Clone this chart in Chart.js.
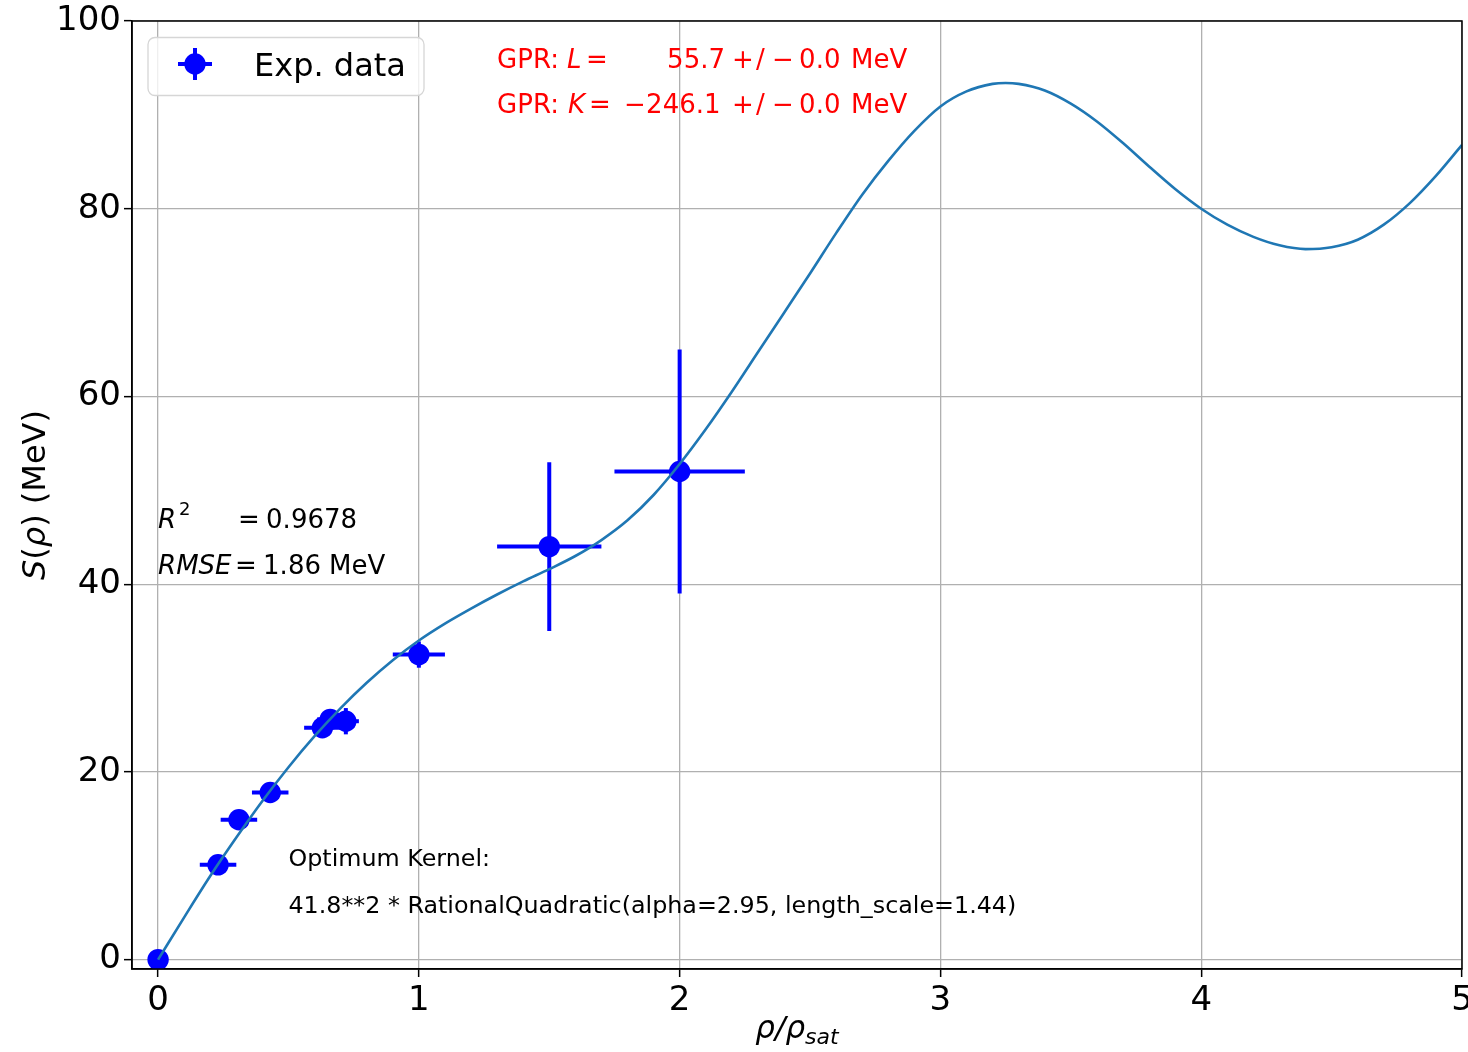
<!DOCTYPE html>
<html>
<head>
<meta charset="utf-8">
<script src="https://cdn.jsdelivr.net/npm/chart.js@4.4.1/dist/chart.umd.min.js"></script>
<style>
  html, body { margin: 0; padding: 0; background: #ffffff; }
  #wrap { width: 1468px; height: 1052px; }
</style>
</head>
<body>
<div id="wrap"><canvas id="c" width="1468" height="1052"></canvas></div>
<script>
// Experimental symmetry energy S(rho) with uncertainties
const expRho    = [0.0, 0.23, 0.31, 0.43, 0.63, 0.66, 0.72, 1.0, 1.5, 2.0];
const expS      = [0.0, 10.1, 14.9, 17.8, 24.7, 25.6, 25.4, 32.5, 44.0, 52.0];
const expRhoErr = [0.0, 0.07, 0.07, 0.07, 0.07, 0.05, 0.05, 0.10, 0.20, 0.25];
const expSErr   = [0.0, 1.0, 1.0, 1.0, 1.0, 1.0, 1.4, 1.4, 9.0, 13.0];

// GPR mean prediction on a density grid (extra nodes at the turning points)
const gprRho = [0.0, 0.1, 0.2, 0.3, 0.4, 0.5, 0.6, 0.7, 0.8, 0.9,
                1.0, 1.1, 1.2, 1.3, 1.4, 1.5, 1.6, 1.7, 1.8, 1.9,
                2.0, 2.1, 2.2, 2.3, 2.4, 2.5, 2.6, 2.7, 2.8, 2.9,
                3.0, 3.1, 3.2, 3.25, 3.3, 3.4, 3.5, 3.6, 3.7, 3.8, 3.9,
                4.0, 4.1, 4.2, 4.3, 4.4, 4.5, 4.6, 4.7, 4.8, 4.9, 5.0];
const gprS   = [0.0, 4.5, 8.9, 13.0, 16.9, 20.5, 23.8, 26.8, 29.5, 31.9,
                34.0, 35.8, 37.4, 38.9, 40.3, 41.6, 43.0, 44.7, 46.8, 49.5,
                52.8, 56.5, 60.5, 64.7, 68.9, 73.1, 77.4, 81.5, 85.1, 88.3,
                90.9, 92.5, 93.3, 93.4, 93.3, 92.6, 91.2, 89.3, 87.0, 84.5, 82.1,
                80.0, 78.3, 77.0, 76.1, 75.7, 75.9, 76.7, 78.3, 80.6, 83.5, 86.8];

const xTicks = [0, 1, 2, 3, 4, 5];
const yTicks = [0, 20, 40, 60, 80, 100];

const FONT = "'DejaVu Sans', 'Liberation Sans', sans-serif";
const BLUE = '#0000ff';
const RED = '#ff0000';

// draws a list of [dx, text, sizePx, italic, dy] pieces from an anchor
function drawPieces(ctx, x0, y0, pieces, color) {
  ctx.save();
  ctx.fillStyle = color;
  ctx.textBaseline = 'alphabetic';
  ctx.textAlign = 'left';
  for (const [dx, text, size, italic, dy] of pieces) {
    ctx.font = (italic ? 'italic ' : '') + size + 'px ' + FONT;
    ctx.fillText(text, x0 + dx, y0 + (dy || 0));
  }
  ctx.restore();
}

// error bars, drawn underneath the markers
const errorBars = {
  id: 'errorBars',
  beforeDatasetDraw(chart, args) {
    if (args.index !== 1) return;
    const { ctx, scales: { x, y } } = chart;
    ctx.save();
    ctx.strokeStyle = BLUE;
    ctx.lineWidth = 4;
    ctx.lineCap = 'butt';
    for (let i = 0; i < expRho.length; i++) {
      const px = x.getPixelForValue(expRho[i]);
      const py = y.getPixelForValue(expS[i]);
      if (expRhoErr[i] > 0) {
        ctx.beginPath();
        ctx.moveTo(x.getPixelForValue(expRho[i] - expRhoErr[i]), py);
        ctx.lineTo(x.getPixelForValue(expRho[i] + expRhoErr[i]), py);
        ctx.stroke();
      }
      if (expSErr[i] > 0) {
        ctx.beginPath();
        ctx.moveTo(px, y.getPixelForValue(expS[i] - expSErr[i]));
        ctx.lineTo(px, y.getPixelForValue(expS[i] + expSErr[i]));
        ctx.stroke();
      }
    }
    ctx.restore();
  }
};

// frame, legend, axis titles and annotations
const decorations = {
  id: 'decorations',
  afterDraw(chart) {
    const { ctx, chartArea: a, scales: { x, y } } = chart;

    // top and right spines
    ctx.save();
    ctx.strokeStyle = '#000';
    ctx.lineWidth = 1.5;
    ctx.strokeRect(a.left, a.top, a.right - a.left, a.bottom - a.top);
    ctx.restore();

    // legend
    const lx = a.left + 16, ly = a.top + 16.5, lw = 276, lh = 58, r = 7;
    ctx.save();
    ctx.beginPath();
    ctx.roundRect(lx, ly, lw, lh, r);
    ctx.fillStyle = 'rgba(255,255,255,0.8)';
    ctx.fill();
    ctx.strokeStyle = '#d6d6d6';
    ctx.lineWidth = 1.3;
    ctx.stroke();
    const mx = lx + 47, my = ly + 26.5;
    ctx.strokeStyle = BLUE;
    ctx.lineWidth = 4;
    ctx.beginPath();
    ctx.moveTo(mx - 17, my); ctx.lineTo(mx + 17, my);
    ctx.moveTo(mx, my - 16); ctx.lineTo(mx, my + 16);
    ctx.stroke();
    ctx.fillStyle = BLUE;
    ctx.beginPath();
    ctx.arc(mx, my, 10.7, 0, Math.PI * 2);
    ctx.fill();
    ctx.fillStyle = '#000';
    ctx.font = '32px ' + FONT;
    ctx.textBaseline = 'alphabetic';
    ctx.fillText('Exp. data', lx + 106, ly + 38.5);
    ctx.restore();

    // GPR slope and curvature
    const gx = x.getPixelForValue(1.3);
    drawPieces(ctx, gx, y.getPixelForValue(95), [
      [0, 'GPR:', 26], [70, 'L', 26, true], [89, '=', 26], [170, '55.7', 26],
      [235, '+', 26], [259, '/', 26], [275, '\u2212', 26], [302, '0.0', 26], [354, 'MeV', 26]
    ], RED);
    drawPieces(ctx, gx, y.getPixelForValue(90.2), [
      [0, 'GPR:', 26], [71, 'K', 26, true], [92, '=', 26], [127, '\u2212', 26], [149, '246.1', 26],
      [235, '+', 26], [259, '/', 26], [275, '\u2212', 26], [302, '0.0', 26], [354, 'MeV', 26]
    ], RED);

    // goodness of fit
    const sx = x.getPixelForValue(0);
    drawPieces(ctx, sx, y.getPixelForValue(46), [
      [0, 'R', 26, true], [21, '2', 18, false, -13], [80, '=', 26], [108, '0.9678', 26]
    ], '#000');
    drawPieces(ctx, sx, y.getPixelForValue(41.1), [
      [0, 'RMSE', 26, true], [77, '=', 26], [105, '1.86', 26], [171, 'MeV', 26]
    ], '#000');

    // kernel description
    const kx = x.getPixelForValue(0.5);
    drawPieces(ctx, kx, y.getPixelForValue(10), [[0, 'Optimum Kernel:', 23.8]], '#000');
    drawPieces(ctx, kx, y.getPixelForValue(5), [[0, '41.8**2 * RationalQuadratic(alpha=2.95, length_scale=1.44)', 23.8]], '#000');

    // x axis title: rho / rho_sat
    ctx.save();
    ctx.fillStyle = '#000';
    ctx.textBaseline = 'alphabetic';
    const cx = (a.left + a.right) / 2;
    const base = a.bottom + 69;
    ctx.font = 'italic 31px ' + FONT;
    const w1 = ctx.measureText('\u03c1/\u03c1').width;
    ctx.font = 'italic 22px ' + FONT;
    const w2 = ctx.measureText('sat').width;
    const tx = cx - (w1 + w2) / 2;
    ctx.font = 'italic 31px ' + FONT;
    ctx.fillText('\u03c1/\u03c1', tx, base);
    ctx.font = 'italic 22px ' + FONT;
    ctx.fillText('sat', tx + w1, base + 6);
    ctx.restore();

    // y axis title: S(rho) (MeV)
    ctx.save();
    ctx.translate(45, (a.top + a.bottom) / 2);
    ctx.rotate(-Math.PI / 2);
    ctx.fillStyle = '#000';
    ctx.textBaseline = 'alphabetic';
    const segs = [['S', true], ['(', false], ['\u03c1', true], [')', false], [' (MeV)', false]];
    let total = 0;
    for (const [t, it] of segs) { ctx.font = (it ? 'italic ' : '') + '32px ' + FONT; total += ctx.measureText(t).width; }
    let ox = -total / 2;
    for (const [t, it] of segs) {
      ctx.font = (it ? 'italic ' : '') + '32px ' + FONT;
      ctx.fillText(t, ox, 0);
      ox += ctx.measureText(t).width;
    }
    ctx.restore();
  }
};

new Chart(document.getElementById('c'), {
  type: 'scatter',
  data: {
    datasets: [
      {
        label: 'GPR',
        data: gprRho.map((v, i) => ({ x: v, y: gprS[i] })),
        showLine: true,
        borderColor: '#1f77b4',
        borderWidth: 2.6,
        pointRadius: 0,
        cubicInterpolationMode: 'monotone',
        order: 0
      },
      {
        label: 'Exp. data',
        data: expRho.map((v, i) => ({ x: v, y: expS[i] })),
        showLine: false,
        pointRadius: 10.7,
        pointBackgroundColor: BLUE,
        pointBorderWidth: 0,
        order: 1
      }
    ]
  },
  options: {
    responsive: false,
    animation: false,
    devicePixelRatio: 1,
    layout: { autoPadding: false, padding: { top: 21, right: 6, left: 0, bottom: 0 } },
    plugins: { legend: { display: false }, tooltip: { enabled: false } },
    scales: {
      x: {
        type: 'linear', min: -0.1, max: 5,
        afterBuildTicks: s => { s.ticks = xTicks.map(v => ({ value: v })); },
        ticks: { font: { family: FONT, size: 34 }, color: '#000', padding: 4, maxRotation: 0, autoSkip: false },
        grid: { color: '#b0b0b0', lineWidth: 1.3, tickColor: '#000', tickLength: 8, tickWidth: 1.5 },
        border: { display: true, color: '#000', width: 1.5 },
        afterFit: s => { s.height = 83; s.paddingLeft = 0; s.paddingRight = 0; }
      },
      y: {
        type: 'linear', min: -1, max: 100,
        afterBuildTicks: s => { s.ticks = yTicks.map(v => ({ value: v })); },
        ticks: { font: { family: FONT, size: 34 }, color: '#000', padding: 3, autoSkip: false },
        grid: { color: '#b0b0b0', lineWidth: 1.3, tickColor: '#000', tickLength: 8, tickWidth: 1.5 },
        border: { display: true, color: '#000', width: 1.5 },
        afterFit: s => { s.width = 132; s.paddingTop = 0; s.paddingBottom = 0; }
      }
    }
  },
  plugins: [errorBars, decorations]
});
</script>
</body>
</html>
